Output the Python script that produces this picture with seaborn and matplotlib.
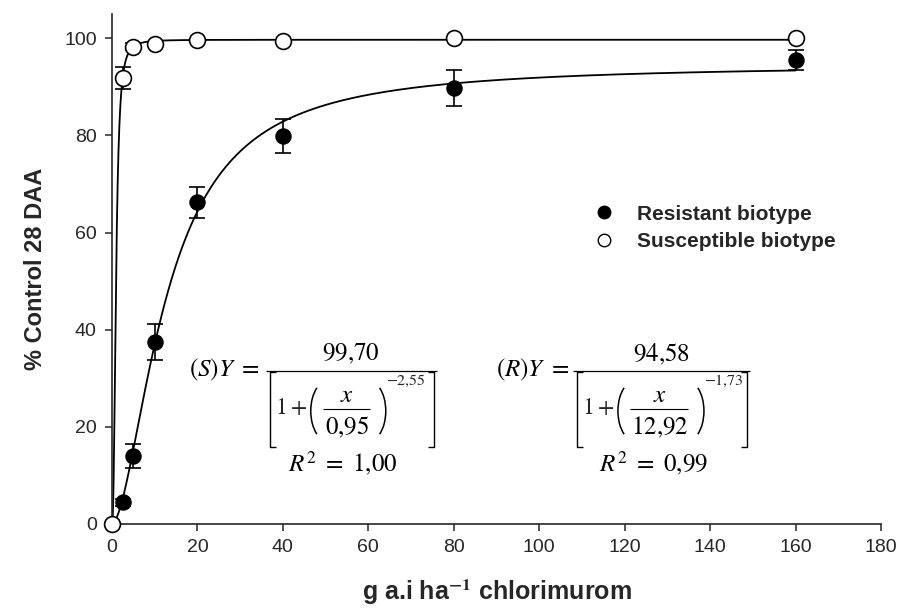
import numpy as np
import pandas as pd
import seaborn as sns
import matplotlib.pyplot as plt
from matplotlib.lines import Line2D
from matplotlib.patches import Arc
from matplotlib.transforms import offset_copy, IdentityTransform

plt.switch_backend('agg')

# doses (g a.i. ha-1)
doses = [0, 2.5, 5, 10, 20, 40, 80, 160]

# % control 28 DAA
resistant = [0, 4.5, 14.0, 37.4, 66.2, 79.8, 89.7, 95.5]
resistant_err = [0, 0.7, 2.5, 3.7, 3.2, 3.5, 3.7, 2.0]
susceptible = [0, 91.8, 98.3, 98.8, 99.6, 99.4, 100.0, 100.0]
susceptible_err = [0, 2.2, 0.7, 0.3, 0, 0, 0, 0]

# log-logistic fits printed on the chart: Y = a / (1 + (x / x50) ** b)
fit_s = {"a": 99.70, "x50": 0.95, "b": -2.55}
fit_r = {"a": 94.58, "x50": 12.92, "b": -1.73}

x_ticks = [0, 20, 40, 60, 80, 100, 120, 140, 160, 180]
y_ticks = [0, 20, 40, 60, 80, 100]


def fit_curve(params, x):
    with np.errstate(divide="ignore"):
        return params["a"] / (1 + (x / params["x50"]) ** params["b"])


def num(v):
    # decimal comma, as in the original figure
    return "$" + f"{v:.2f}".replace(".", "{,}") + "$"


def draw_equation(ax, name, params, r2, anchor, bar_w, inner_w):
    # equation drawn piece by piece, offsets in pixels from the left end of the fraction bar
    def at(dx, dy):
        return offset_copy(ax.transData, fig=ax.figure, x=dx, y=dy, units="dots")

    x0, y0 = anchor
    kw = dict(fontsize=18, color="black")
    px, py = ax.transData.transform((x0, y0))

    lines = [
        ([0, bar_w], [0, 0], 0.9),                      # main fraction bar
        ([10, 4, 4, 10], [-1, -1, -76, -76], 1.0),      # left bracket
        ([bar_w - 9, bar_w - 3, bar_w - 3, bar_w - 9], [-1, -1, -76, -76], 1.0),  # right bracket
        ([57, 57 + inner_w], [-38, -38], 0.8),          # inner fraction bar
    ]
    for xs, ys, lw in lines:
        pts = [(px + dx, py + dy) for dx, dy in zip(xs, ys)]
        data_pts = ax.transData.inverted().transform(pts)
        ax.plot(data_pts[:, 0], data_pts[:, 1], color="black", lw=lw, clip_on=False,
                solid_capstyle="butt")

    # thin round brackets around x / x50
    for cx, t1, t2 in [(62, 115, 245), (57 + inner_w - 1, -65, 65)]:
        ax.add_patch(Arc((px + cx, py - 40), 34, 60, theta1=t1, theta2=t2,
                         transform=IdentityTransform(), color="black", lw=1.1,
                         clip_on=False))

    ax.text(x0, y0, f"$({name})Y\\ =$", ha="left", va="center", transform=at(-77, 1), **kw)
    ax.text(x0, y0, num(params["a"]), ha="center", va="center", transform=at(bar_w / 2, 17), **kw)
    ax.text(x0, y0, r"$1+$", ha="left", va="center", transform=at(9, -37), fontsize=17)
    ax.text(x0, y0, r"$x$", ha="center", va="center", transform=at(58 + inner_w / 2, -24), **kw)
    ax.text(x0, y0, num(params["x50"]), ha="center", va="center",
            transform=at(58 + inner_w / 2, -56), **kw)
    ax.text(x0, y0, num(params["b"]), ha="left", va="center",
            transform=at(57 + inner_w + 16, -10), fontsize=11.5)
    ax.text(x0, y0, f"$R^2\\ =\\ {r2.replace(',', '{,}')}$", ha="center", va="center",
            transform=at(bar_w / 2 - 8, -93), **kw)


sns.set_style("ticks")
plt.rcParams['font.family'] = ['Liberation Sans', 'DejaVu Sans']
plt.rcParams['mathtext.fontset'] = 'stix'

fig = plt.figure(figsize=(9.03, 6.10), dpi=100)
ax = fig.add_axes([0.124, 0.141, 0.8516, 0.836])

x_grid = np.concatenate([np.linspace(0, 5, 400), np.linspace(5, 160, 400)])
curves = pd.DataFrame({
    "x": np.concatenate([x_grid, x_grid]),
    "y": np.concatenate([fit_curve(fit_s, x_grid), fit_curve(fit_r, x_grid)]),
    "biotype": ["S"] * len(x_grid) + ["R"] * len(x_grid),
})
sns.lineplot(data=curves, x="x", y="y", units="biotype", estimator=None, sort=False,
             color="black", linewidth=1.3, ax=ax, legend=False)

ax.errorbar(doses, resistant, yerr=resistant_err, fmt="none", ecolor="black",
            elinewidth=1.2, capsize=6, capthick=1.2, zorder=3)
ax.errorbar(doses, susceptible, yerr=susceptible_err, fmt="none", ecolor="black",
            elinewidth=1.2, capsize=6, capthick=1.2, zorder=3)
sns.scatterplot(x=doses, y=resistant, ax=ax, color="black", edgecolor="black",
                s=120, marker="o", zorder=4, clip_on=False)
sns.scatterplot(x=doses, y=susceptible, ax=ax, color="white", edgecolor="black",
                linewidth=1.2, s=130, marker="o", zorder=5, clip_on=False)

ax.set_xlim(0, 180)
ax.set_ylim(0, 105)
ax.set_xticks(x_ticks)
ax.set_yticks(y_ticks)
ax.tick_params(direction="out", length=5, width=1.1, labelsize=14, pad=6)
for side in ["left", "bottom"]:
    ax.spines[side].set_linewidth(1.2)
sns.despine(ax=ax)

ax.set_xlabel(r"g a.i ha$^{\mathbf{-1}}$ chlorimurom", fontsize=18, fontweight="bold", labelpad=15)
ax.set_ylabel("% Control 28 DAA", fontsize=17, fontweight="bold", labelpad=12)

handles = [
    Line2D([0], [0], marker="o", color="none", markerfacecolor="black",
           markeredgecolor="black", markersize=9, label="Resistant biotype"),
    Line2D([0], [0], marker="o", color="none", markerfacecolor="white",
           markeredgecolor="black", markersize=9, label="Susceptible biotype"),
]
ax.legend(handles=handles, loc="upper left", bbox_to_anchor=(0.588, 0.663),
          frameon=False, prop={"weight": "bold", "size": 15},
          handletextpad=0.6, labelspacing=0.4)

# anchors = left end of each fraction bar (data units)
draw_equation(ax, "S", fit_s, "1,00", (36.0, 31.5), bar_w=171, inner_w=47)
draw_equation(ax, "R", fit_r, "0,99", (107.9, 31.5), bar_w=177, inner_w=58)

fig.savefig("out.png", dpi=100)
